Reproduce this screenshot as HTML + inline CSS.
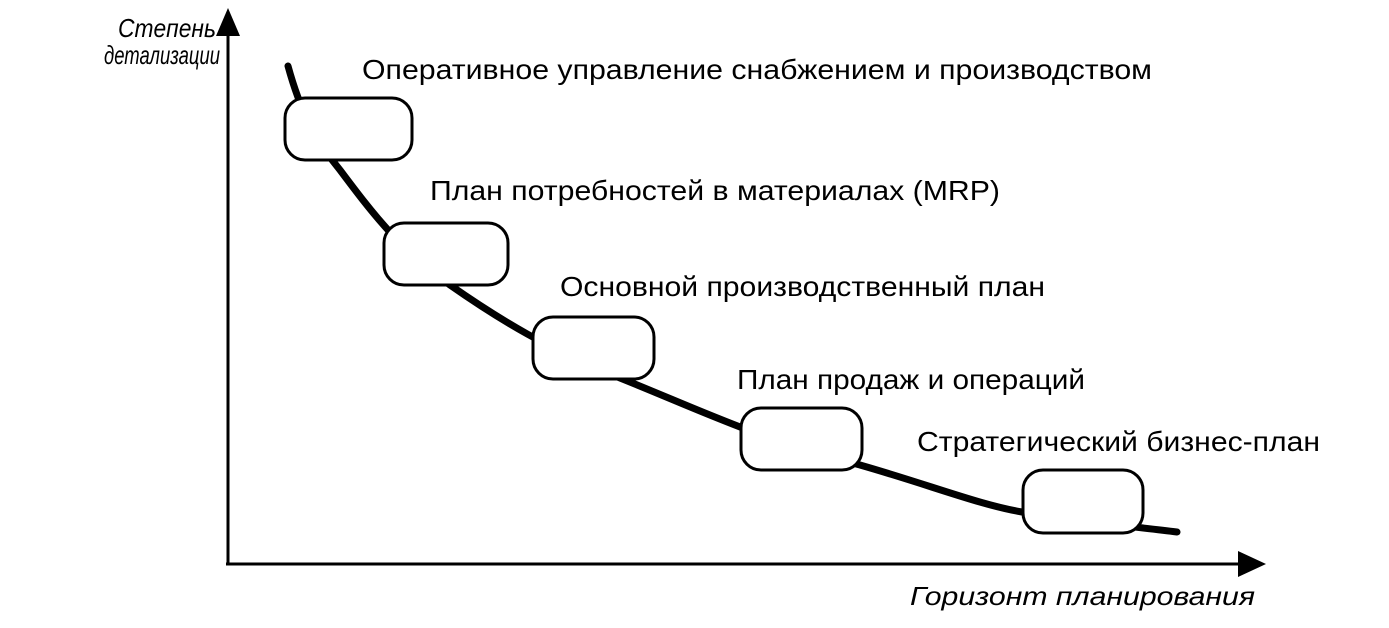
<!DOCTYPE html>
<html><head><meta charset="utf-8"><style>html,body{margin:0;padding:0;background:#fff}svg{display:block}</style></head>
<body>
<svg width="1389" height="628" viewBox="0 0 1389 628" xmlns="http://www.w3.org/2000/svg" font-family="Liberation Sans, Arial, sans-serif" fill="#000">
<line x1="228" y1="30" x2="228" y2="565" stroke="#000" stroke-width="3"/>
<polygon points="228,8 216,36 240,36"/>
<line x1="226" y1="564" x2="1245" y2="564" stroke="#000" stroke-width="3"/>
<polygon points="1266,564 1238,551 1238,577"/>
<path d="M288,66 C300,110 315,140 340,170 C370,210 400,250 450,285 C500,320 550,350 620,378 C700,410 760,440 860,465 C930,485 980,505 1022,512 C1080,522 1130,526 1177,532" fill="none" stroke="#000" stroke-width="7" stroke-linecap="round"/>
<g fill="#fff" stroke="#000" stroke-width="3">
<rect x="285" y="98" width="127" height="62" rx="20"/>
<rect x="384" y="223" width="124" height="62" rx="20"/>
<rect x="533" y="317" width="121" height="62" rx="20"/>
<rect x="741" y="408" width="121" height="62" rx="20"/>
<rect x="1023" y="470" width="120" height="63" rx="20"/>
</g>
<g font-size="28">
<text x="362" y="79" textLength="790" lengthAdjust="spacingAndGlyphs">Оперативное управление снабжением и производством</text>
<text x="430" y="200" textLength="570" lengthAdjust="spacingAndGlyphs">План потребностей в материалах (MRP)</text>
<text x="560" y="296" textLength="485" lengthAdjust="spacingAndGlyphs">Основной производственный план</text>
<text x="737" y="389" textLength="348" lengthAdjust="spacingAndGlyphs">План продаж и операций</text>
<text x="917" y="451" textLength="403" lengthAdjust="spacingAndGlyphs">Стратегический бизнес-план</text>
</g>
<g font-size="26" font-style="italic">
<text x="118" y="37" textLength="98" lengthAdjust="spacingAndGlyphs">Степень</text>
<text x="104" y="64" textLength="116" lengthAdjust="spacingAndGlyphs">детализации</text>
<text x="910" y="605" textLength="345" lengthAdjust="spacingAndGlyphs">Горизонт планирования</text>
</g>
</svg>
</body></html>
